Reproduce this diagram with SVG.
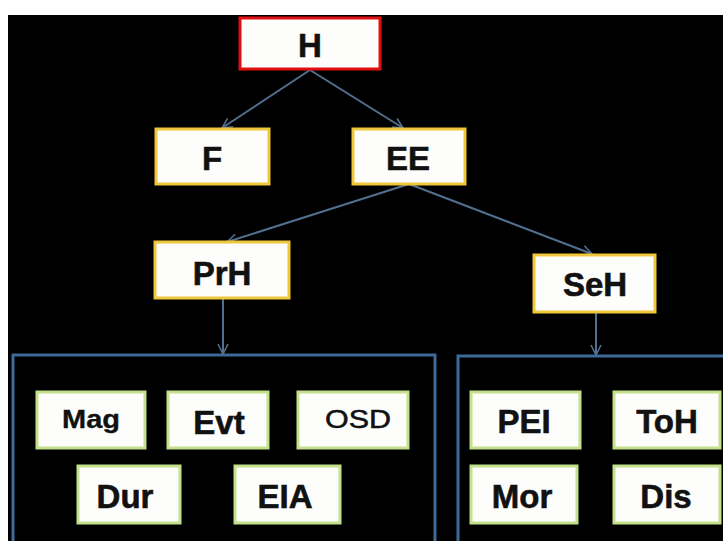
<svg xmlns="http://www.w3.org/2000/svg" width="723" height="541" viewBox="0 0 723 541">
  <style>
    .box { fill: #fdfdfb; stroke-width: 3; }
    .top { stroke: #e01010; }
    .mid { stroke: #efc73a; }
    .leaf { stroke: #c3e08a; }
    .panel { fill: none; stroke: #3d6a98; stroke-width: 3; }
    .lbl { font-family: "Liberation Sans", Arial, sans-serif; font-weight: bold; font-size: 33px; fill: #111; stroke: #111; stroke-width: 0.6; text-anchor: middle; }
    .sm { font-size: 25px; stroke-width: 0.3; }
    .reg { font-weight: normal; stroke-width: 0.5; }
    .edge { fill: none; stroke: #51708f; stroke-width: 2; marker-end: url(#arrow); }
  </style>
  <defs>
    <marker id="arrow" viewBox="0 0 12 12" refX="11" refY="6" markerWidth="12" markerHeight="12" markerUnits="userSpaceOnUse" orient="auto">
      <path d="M1,1 L11,6 L1,11" fill="none" stroke="#51708f" stroke-width="1.6"/>
    </marker>
  </defs>

  <!-- canvas -->
  <rect x="0" y="0" width="723" height="541" fill="#ffffff"/>
  <rect x="8" y="15" width="715" height="526" fill="#000000"/>

  <!-- grouping panels -->
  <g id="panel-primary"><rect class="panel" x="13" y="355" width="422" height="200"/></g>
  <g id="panel-secondary"><rect class="panel" x="458" y="356" width="280" height="200"/></g>

  <!-- connectors -->
  <g id="connectors">
    <line class="edge" x1="310" y1="70" x2="222" y2="128"/>
    <line class="edge" x1="310" y1="70" x2="403" y2="128"/>
    <line class="edge" x1="409" y1="184" x2="227" y2="242"/>
    <line class="edge" x1="409" y1="184" x2="592" y2="254"/>
    <line class="edge" x1="223" y1="299" x2="223" y2="354"/>
    <line class="edge" x1="596" y1="313" x2="596" y2="355"/>
  </g>

  <!-- tree nodes -->
  <g id="node-H"><rect class="box top" x="240" y="18" width="140" height="51"/><text class="lbl" x="310" y="57">H</text></g>
  <g id="node-F"><rect class="box mid" x="156" y="129" width="113" height="55"/><text class="lbl" x="212" y="170">F</text></g>
  <g id="node-EE"><rect class="box mid" x="353" y="129" width="112" height="55"/><text class="lbl" x="408" y="170">EE</text></g>
  <g id="node-PrH"><rect class="box mid" x="155" y="242" width="134" height="56"/><text class="lbl" x="222" y="285">PrH</text></g>
  <g id="node-SeH"><rect class="box mid" x="534" y="255" width="121" height="57"/><text class="lbl" x="595" y="296">SeH</text></g>

  <!-- primary group members -->
  <g id="node-Mag"><rect class="box leaf" x="37" y="392" width="108" height="56"/><text class="lbl sm" x="91" y="428" textLength="58" lengthAdjust="spacingAndGlyphs">Mag</text></g>
  <g id="node-Evt"><rect class="box leaf" x="168" y="392" width="100" height="56"/><text class="lbl" x="219" y="434">Evt</text></g>
  <g id="node-OSD"><rect class="box leaf" x="298" y="392" width="110" height="56"/><text class="lbl sm reg" x="358" y="428" textLength="66" lengthAdjust="spacingAndGlyphs">OSD</text></g>
  <g id="node-Dur"><rect class="box leaf" x="78" y="466" width="102" height="57"/><text class="lbl" x="125" y="508">Dur</text></g>
  <g id="node-EIA"><rect class="box leaf" x="235" y="466" width="105" height="57"/><text class="lbl" x="285" y="508">EIA</text></g>

  <!-- secondary group members -->
  <g id="node-PEI"><rect class="box leaf" x="471" y="392" width="109" height="56"/><text class="lbl" x="524" y="433">PEI</text></g>
  <g id="node-ToH"><rect class="box leaf" x="614" y="392" width="106" height="56"/><text class="lbl" x="667" y="433">ToH</text></g>
  <g id="node-Mor"><rect class="box leaf" x="471" y="466" width="106" height="57"/><text class="lbl" x="522" y="508">Mor</text></g>
  <g id="node-Dis"><rect class="box leaf" x="614" y="466" width="106" height="57"/><text class="lbl" x="666" y="508">Dis</text></g>
</svg>
